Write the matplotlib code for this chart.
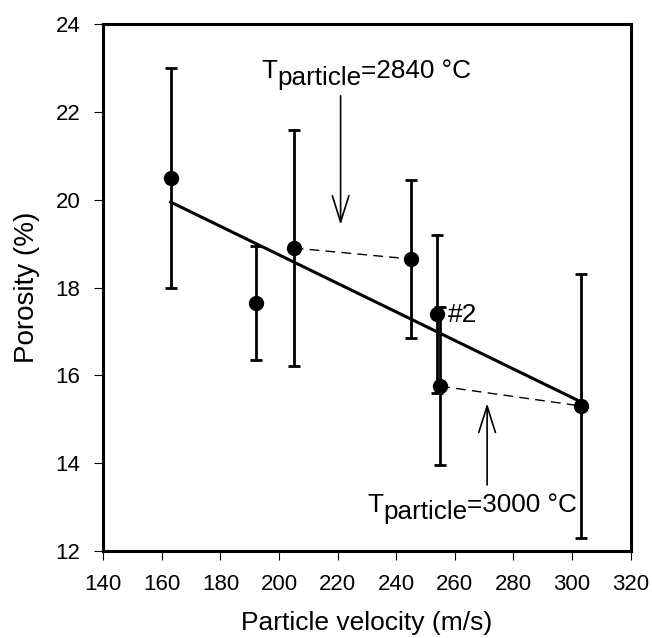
import numpy as np
import matplotlib
matplotlib.use("Agg")
import matplotlib.pyplot as plt
from matplotlib.transforms import offset_copy

plt.rcParams['font.family'] = ['Liberation Sans', 'DejaVu Sans']

# particle velocity (m/s), porosity (%) and error half-widths
velocity = [163, 192, 205, 245, 254, 255, 303]
porosity = [20.5, 17.65, 18.9, 18.65, 17.4, 15.75, 15.3]
err = [2.5, 1.3, 2.7, 1.8, 1.8, 1.8, 3.0]

# pairs joined by dashed lines (same particle temperature)
pair_2840 = [2, 3]
pair_3000 = [5, 6]

xticks = list(range(140, 321, 20))
yticks = list(range(12, 25, 2))

fig = plt.figure(figsize=(6.52, 6.38), dpi=100)
ax = fig.add_axes([0.1584, 0.1368, 0.8089, 0.8251])

# least squares trend line
k, b = np.polyfit(velocity, porosity, 1)
xl = np.array([min(velocity), max(velocity)])
ax.plot(xl, k * xl + b, color='black', lw=2.2, zorder=2)

for pair in (pair_2840, pair_3000):
    ax.plot([velocity[i] for i in pair], [porosity[i] for i in pair],
            color='black', lw=1.0, dashes=(7, 4.5), zorder=2)

ax.errorbar(velocity, porosity, yerr=err, fmt='o', color='black',
            ms=10, elinewidth=2.0, capsize=4.5, capthick=2.0, zorder=3)

ax.text(257.6, 17.37, '#2', fontsize=19, ha='left', va='center')

# temperature arrows
arrow = dict(arrowstyle='->, head_length=19, head_width=6',
             mutation_scale=1, lw=1.2, color='black', shrinkA=0, shrinkB=0)
ax.annotate('', xy=(221, 19.43), xytext=(221, 22.37), arrowprops=arrow)
ax.annotate('', xy=(271, 15.36), xytext=(271, 13.5), arrowprops=arrow)

ax.set_xlim(140, 320)
ax.set_ylim(12, 24)


def temp_label(x, y, value):
    fig.canvas.draw()
    r = fig.canvas.get_renderer()
    kw = dict(fontsize=18.8, ha='left', va='baseline')
    t1 = ax.text(x, y, 'T', **kw)
    w1 = t1.get_window_extent(r).width * 72 / fig.dpi
    tr2 = offset_copy(ax.transData, fig=fig, x=w1, y=-5.5, units='points')
    t2 = ax.text(x, y, 'particle', transform=tr2, **kw)
    w2 = t2.get_window_extent(r).width * 72 / fig.dpi
    tr3 = offset_copy(ax.transData, fig=fig, x=w1 + w2, y=0, units='points')
    ax.text(x, y, '=%d °C' % value, transform=tr3, **kw)


temp_label(193.8, 22.78, 2840)
temp_label(230.1, 12.89, 3000)

ax.set_xticks(xticks)
ax.set_yticks(yticks)
ax.tick_params(direction='out', length=6.5, width=0.8, pad=10, labelsize=16)
for s in ax.spines.values():
    s.set_linewidth(2.2)

ax.set_xlabel('Particle velocity (m/s)', fontsize=19, labelpad=12)
ax.set_ylabel('Porosity (%)', fontsize=20, labelpad=11)

fig.savefig('out.png', dpi=100)
